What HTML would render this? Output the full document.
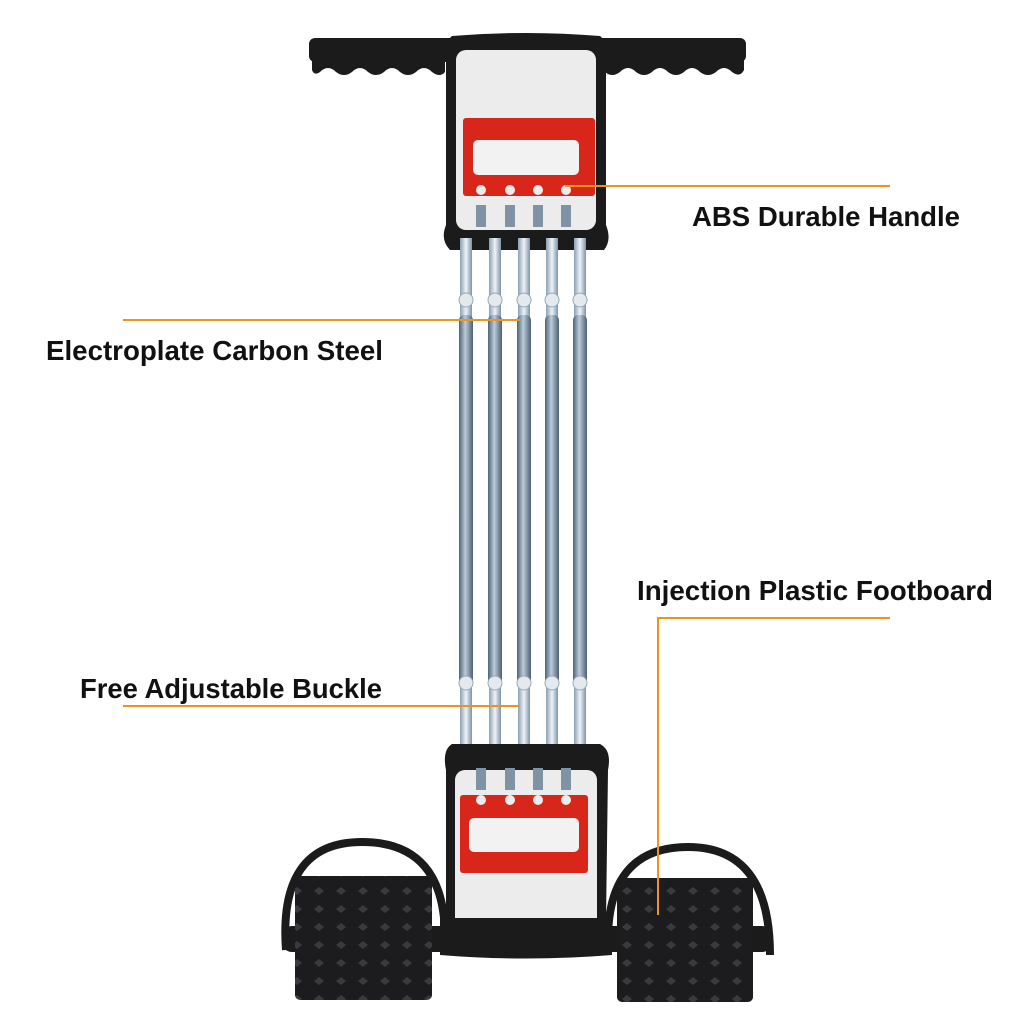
<!DOCTYPE html>
<html><head><meta charset="utf-8"><style>
html,body{margin:0;padding:0;background:#fff;}
svg{display:block}
text{font-family:"Liberation Sans",sans-serif;font-weight:bold;fill:#111;}
</style></head><body>
<svg width="1024" height="1024" viewBox="0 0 1024 1024" xmlns="http://www.w3.org/2000/svg">
<defs>
<linearGradient id="sp" x1="0" x2="1">
<stop offset="0" stop-color="#4a6478"/><stop offset="0.45" stop-color="#bccbd8"/><stop offset="1" stop-color="#4a6074"/>
</linearGradient>
<linearGradient id="wire" x1="0" x2="1">
<stop offset="0" stop-color="#8aa0b4"/><stop offset="0.5" stop-color="#eef3f8"/><stop offset="1" stop-color="#7d93a8"/>
</linearGradient>
<pattern id="dia" width="22" height="18" patternUnits="userSpaceOnUse">
<rect width="22" height="18" fill="#1c1c1e"/>
<path d="M11 5 L16 9 L11 13 L6 9Z" fill="#3a3a3e"/>
</pattern>
</defs>

<rect x="309" y="38" width="437" height="24" rx="6" fill="#1b1b1b"/>
<g fill="#1b1b1b">
<path d="M312 58 L445 58 L445 72 Q440 78 432 72 Q424 64 416 72 Q408 78 400 72 Q392 64 384 72 Q376 78 368 72 Q360 64 352 72 Q344 78 336 72 Q328 64 320 72 Q314 76 312 70Z"/>
<path d="M605 58 L744 58 L744 70 Q740 78 732 72 Q724 64 716 72 Q708 78 700 72 Q692 64 684 72 Q676 78 668 72 Q660 64 652 72 Q644 78 636 72 Q628 64 620 72 Q612 78 605 72Z"/>
</g>

<path d="M452 36 Q526 30 600 36 Q606 40 606 60 L606 225 Q612 240 604 250 L450 250 Q440 240 446 225 L446 60 Q446 40 452 36Z" fill="#1b1b1b"/>
<rect x="456" y="50" width="140" height="180" rx="10" fill="#ececec"/>
<rect x="463" y="118" width="132" height="78" rx="3" fill="#d8261a"/>
<rect x="473" y="140" width="106" height="35" rx="5" fill="#f2f2f2"/>
<g fill="#ececec"><circle cx="481" cy="190" r="5"/><circle cx="510" cy="190" r="5"/><circle cx="538" cy="190" r="5"/><circle cx="566" cy="190" r="5"/></g>
<g fill="#7f93a5"><rect x="476" y="205" width="10" height="22"/><rect x="505" y="205" width="10" height="22"/><rect x="533" y="205" width="10" height="22"/><rect x="561" y="205" width="10" height="22"/></g>

<g>
<rect x="460" y="238" width="12" height="80" fill="url(#wire)"/>
<rect x="489" y="238" width="12" height="80" fill="url(#wire)"/>
<rect x="518" y="238" width="12" height="80" fill="url(#wire)"/>
<rect x="546" y="238" width="12" height="80" fill="url(#wire)"/>
<rect x="574" y="238" width="12" height="80" fill="url(#wire)"/>
<rect x="459" y="315" width="14" height="370" rx="5" fill="url(#sp)"/>
<rect x="488" y="315" width="14" height="370" rx="5" fill="url(#sp)"/>
<rect x="517" y="315" width="14" height="370" rx="5" fill="url(#sp)"/>
<rect x="545" y="315" width="14" height="370" rx="5" fill="url(#sp)"/>
<rect x="573" y="315" width="14" height="370" rx="5" fill="url(#sp)"/>
<rect x="460" y="685" width="12" height="65" fill="url(#wire)"/>
<rect x="489" y="685" width="12" height="65" fill="url(#wire)"/>
<rect x="518" y="685" width="12" height="65" fill="url(#wire)"/>
<rect x="546" y="685" width="12" height="65" fill="url(#wire)"/>
<rect x="574" y="685" width="12" height="65" fill="url(#wire)"/>
<g fill="#e4e9ee" stroke="#9aa8b5"><circle cx="466" cy="300" r="7"/><circle cx="495" cy="300" r="7"/><circle cx="524" cy="300" r="7"/><circle cx="552" cy="300" r="7"/><circle cx="580" cy="300" r="7"/>
<circle cx="466" cy="683" r="7"/><circle cx="495" cy="683" r="7"/><circle cx="524" cy="683" r="7"/><circle cx="552" cy="683" r="7"/><circle cx="580" cy="683" r="7"/></g>
</g>

<path d="M452 744 L600 744 Q612 750 608 770 L606 920 L446 920 L446 770 Q442 750 452 744Z" fill="#1b1b1b"/>
<rect x="455" y="770" width="142" height="158" rx="10" fill="#ececec"/>
<g fill="#7f93a5"><rect x="476" y="768" width="10" height="22"/><rect x="505" y="768" width="10" height="22"/><rect x="533" y="768" width="10" height="22"/><rect x="561" y="768" width="10" height="22"/></g>
<rect x="460" y="795" width="128" height="78" rx="3" fill="#d8261a"/>
<g fill="#ececec"><circle cx="481" cy="800" r="5"/><circle cx="510" cy="800" r="5"/><circle cx="538" cy="800" r="5"/><circle cx="566" cy="800" r="5"/></g>
<rect x="469" y="818" width="110" height="34" rx="5" fill="#f2f2f2"/>

<rect x="282" y="926" width="490" height="26" rx="10" fill="#1b1b1b"/>
<path d="M440 918 L612 918 L612 955 Q526 962 440 955Z" fill="#1b1b1b"/>
<path d="M286 950 Q278 842 362 842 Q446 842 445 940" fill="none" stroke="#1b1b1b" stroke-width="8"/>
<path d="M608 945 Q606 847 688 847 Q770 847 770 955" fill="none" stroke="#1b1b1b" stroke-width="8"/>
<rect x="295" y="876" width="137" height="124" rx="5" fill="url(#dia)"/>
<rect x="617" y="878" width="136" height="124" rx="5" fill="url(#dia)"/>

<g stroke="#e8961e" stroke-width="2" fill="none">
<line x1="565" y1="186" x2="890" y2="186"/>
<line x1="123" y1="320" x2="520" y2="320"/>
<line x1="123" y1="706" x2="520" y2="706"/>
<polyline points="890,618 658,618 658,915"/>
</g>
<text x="692" y="226" font-size="28" textLength="268" lengthAdjust="spacingAndGlyphs">ABS Durable Handle</text>
<text x="46" y="360" font-size="28" textLength="337" lengthAdjust="spacingAndGlyphs">Electroplate Carbon Steel</text>
<text x="637" y="600" font-size="28" textLength="356" lengthAdjust="spacingAndGlyphs">Injection Plastic Footboard</text>
<text x="80" y="698" font-size="28" textLength="302" lengthAdjust="spacingAndGlyphs">Free Adjustable Buckle</text>
</svg>
</body></html>
